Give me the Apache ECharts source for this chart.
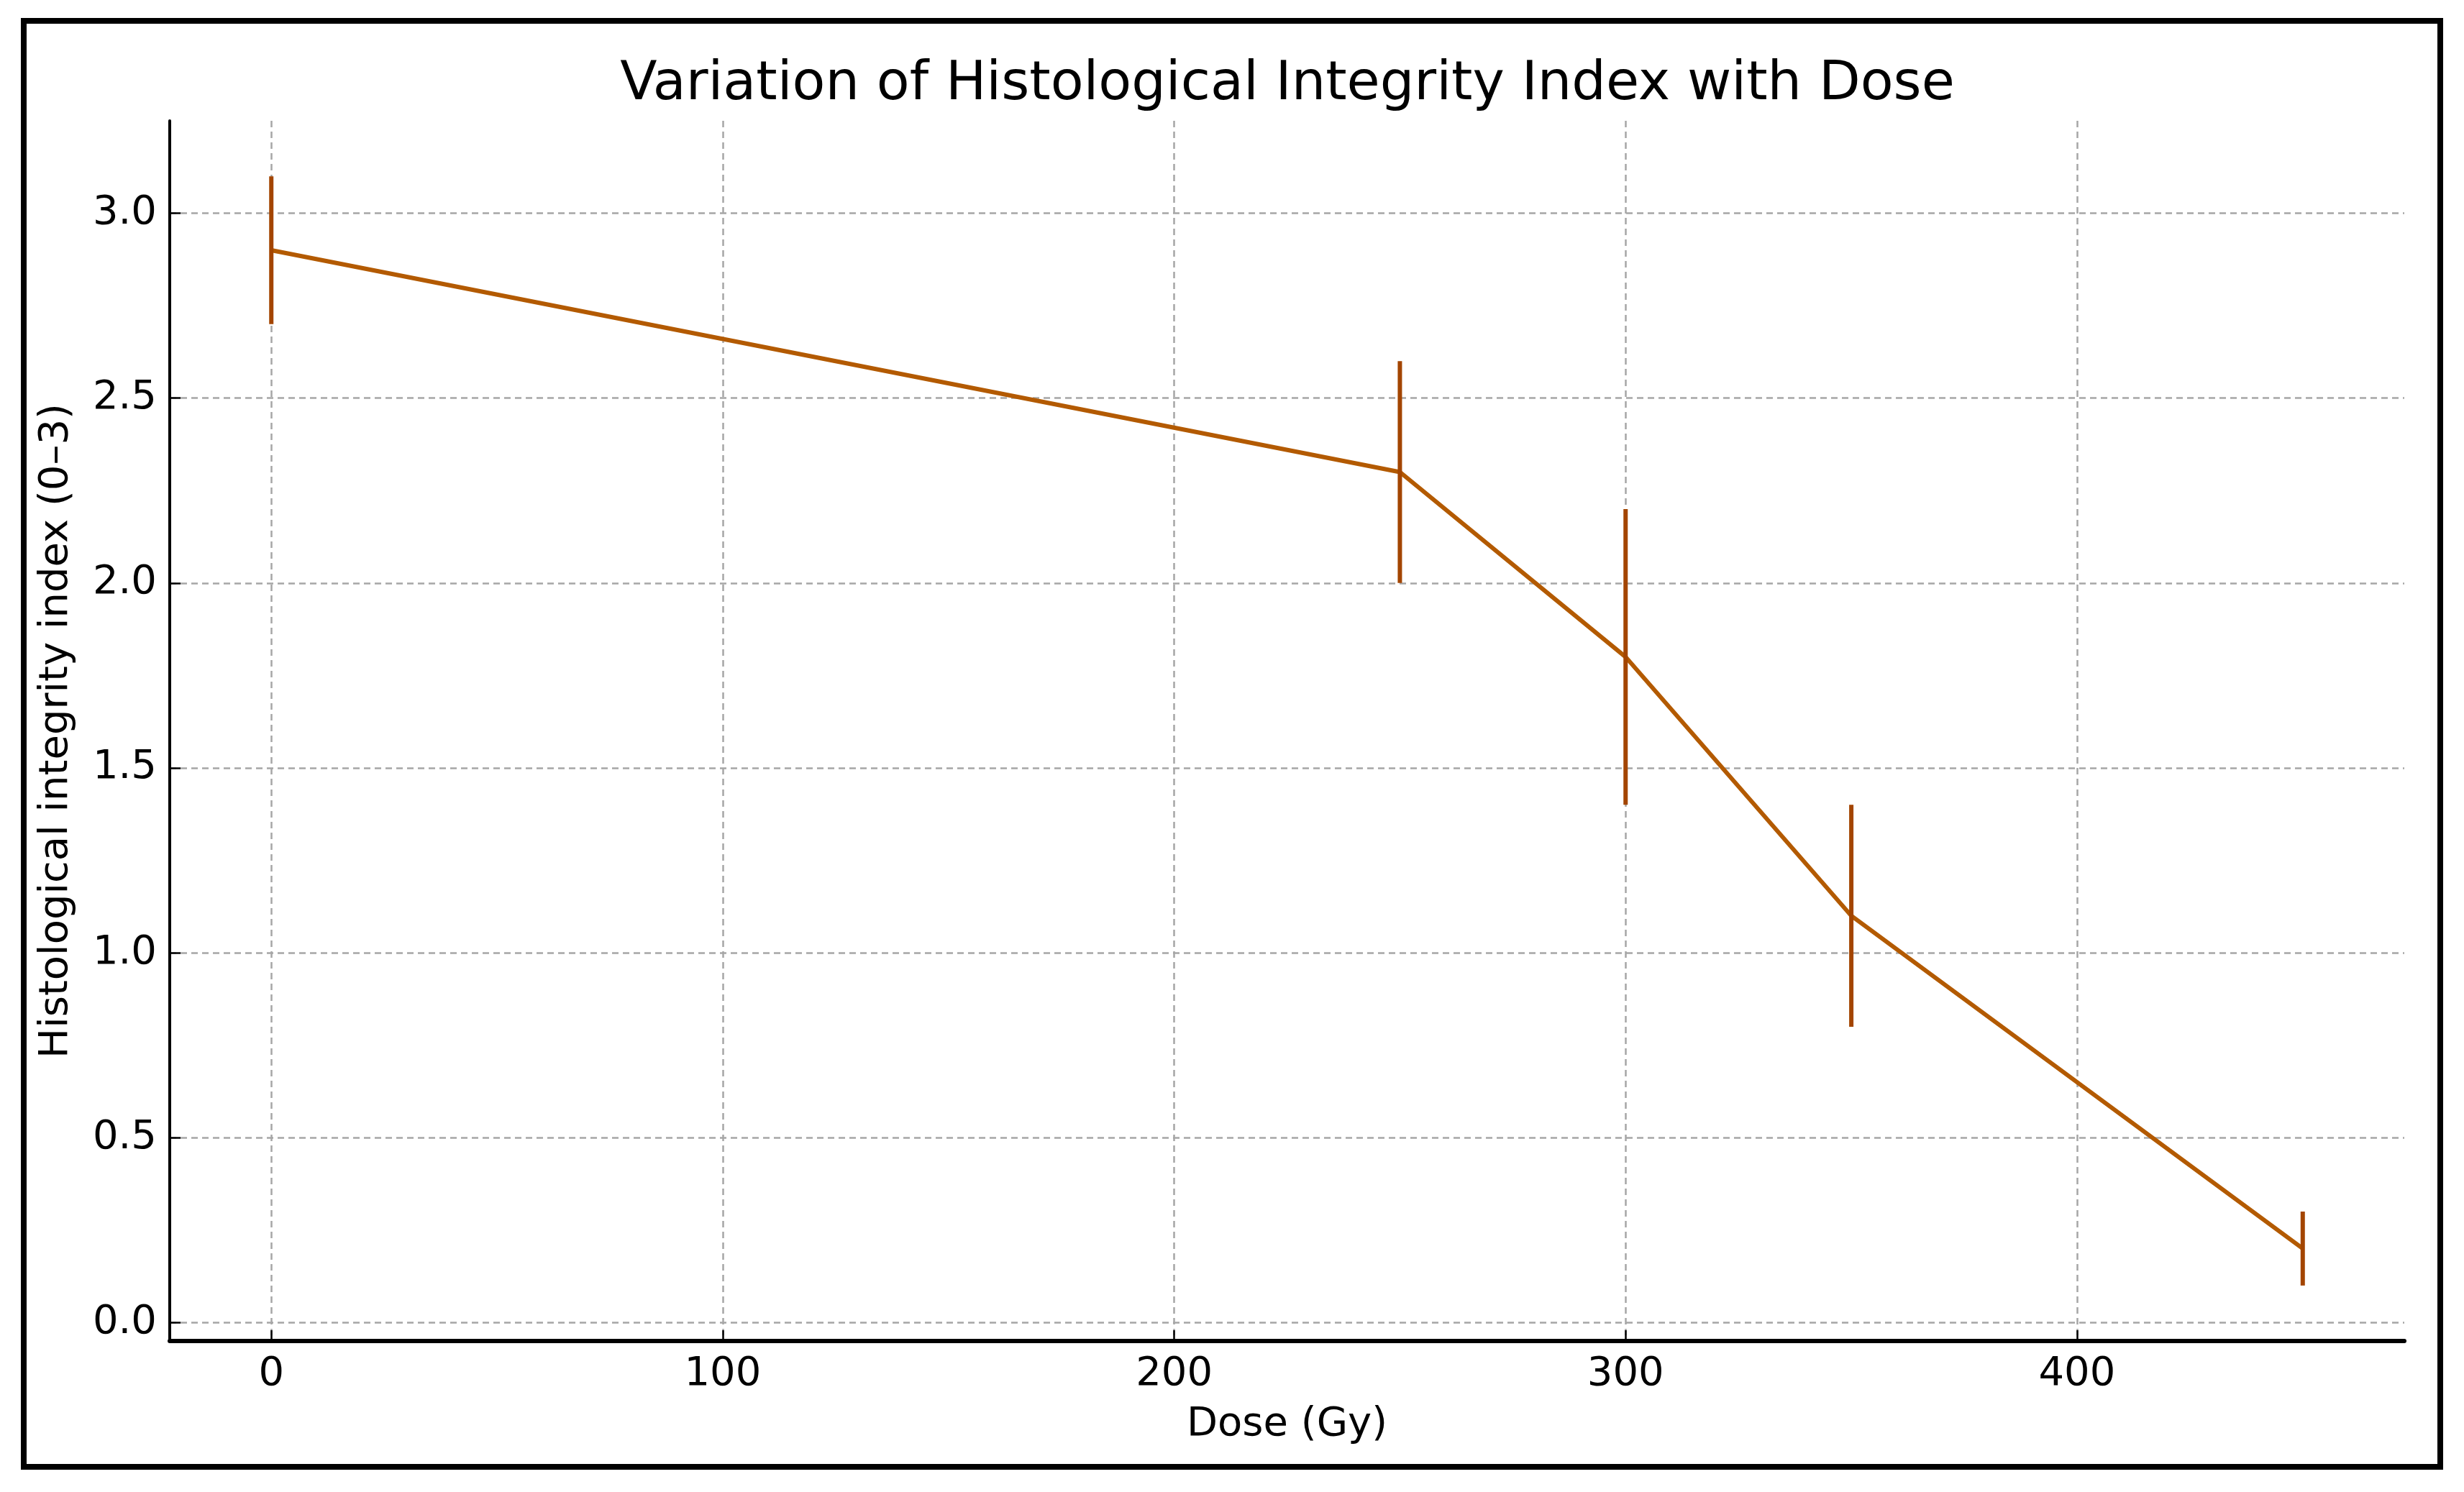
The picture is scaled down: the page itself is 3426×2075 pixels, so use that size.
<!DOCTYPE html>
<html>
<head>
<meta charset="utf-8">
<script src="https://cdn.jsdelivr.net/npm/echarts@6/dist/echarts.min.js"></script>
<style>
  html, body { margin: 0; padding: 0; background: #fff; }
  #chart { width: 3426px; height: 2075px; }
</style>
</head>
<body>
<div id="chart"></div>
<script>
// data
const doses = [0, 250, 300, 350, 450];
const integrity = [2.9, 2.3, 1.8, 1.1, 0.2];
const errors = [0.2, 0.3, 0.4, 0.3, 0.1];
const xTicks = [0, 100, 200, 300, 400];
const yTicks = [0, 0.5, 1.0, 1.5, 2.0, 2.5, 3.0];

document.addEventListener('DOMContentLoaded', () => {
  const chart = echarts.init(document.getElementById('chart'));
  const font = 'DejaVu Sans';
  const lineColor = '#b35a00';
  const errColor = '#a34500';

  const points = doses.map((d, i) => [d, integrity[i]]);
  const bars = doses.map((d, i) => [d, integrity[i] - errors[i], integrity[i] + errors[i]]);

  const gridLine = {
    show: true,
    lineStyle: { color: '#a6a6a6', width: 2.5, type: [9, 6] }
  };

  const option = {
    animation: false,
    backgroundColor: '#fff',
    textStyle: { fontFamily: font },
    grid: { left: 236, top: 168, right: 83, bottom: 210, containLabel: false },
    graphic: [
      {
        type: 'rect',
        shape: { x: 33, y: 29, width: 3360, height: 2011 },
        style: { fill: 'none', stroke: '#000', lineWidth: 8 },
        z: 100
      },
      {
        type: 'text',
        x: 1790, y: 119,
        style: {
          text: 'Variation of Histological Integrity Index with Dose',
          font: '75px "DejaVu Sans"',
          fill: '#000',
          textAlign: 'center',
          textVerticalAlign: 'middle'
        }
      }
    ],
    xAxis: {
      type: 'value',
      min: -22.5,
      max: 472.5,
      name: 'Dose (Gy)',
      nameLocation: 'middle',
      nameGap: 88,
      nameTextStyle: { fontSize: 56, color: '#000', fontFamily: font },
      axisLine: { onZero: false, lineStyle: { color: '#000', width: 6 } },
      axisTick: { show: true, inside: true, length: 15, customValues: xTicks, lineStyle: { color: '#000', width: 2.5 } },
      axisLabel: { customValues: xTicks, fontSize: 56, color: '#000', margin: 18, fontFamily: font },
      splitLine: gridLine
    },
    yAxis: {
      type: 'value',
      min: -0.05,
      max: 3.25,
      name: 'Histological integrity index (0\u20133)',
      nameLocation: 'middle',
      nameRotate: 90,
      nameGap: 130,
      nameTextStyle: { fontSize: 56, color: '#000', fontFamily: font },
      axisLine: { show: true, onZero: false, lineStyle: { color: '#000', width: 4 } },
      axisTick: { show: true, inside: true, length: 15, customValues: yTicks, lineStyle: { color: '#000', width: 2.5 } },
      axisLabel: {
        customValues: yTicks, fontSize: 56, color: '#000', margin: 18, fontFamily: font,
        formatter: v => v.toFixed(1)
      },
      splitLine: gridLine
    },
    series: [
      {
        type: 'line',
        data: points,
        symbol: 'none',
        lineStyle: { color: lineColor, width: 6 },
        z: 3
      },
      {
        type: 'custom',
        data: bars,
        renderItem: (params, api) => {
          const lo = api.coord([api.value(0), api.value(1)]);
          const hi = api.coord([api.value(0), api.value(2)]);
          return {
            type: 'line',
            shape: { x1: lo[0], y1: lo[1], x2: hi[0], y2: hi[1] },
            style: { stroke: errColor, lineWidth: 6 }
          };
        },
        z: 4
      }
    ]
  };
  chart.setOption(option);
});
</script>
</body>
</html>
